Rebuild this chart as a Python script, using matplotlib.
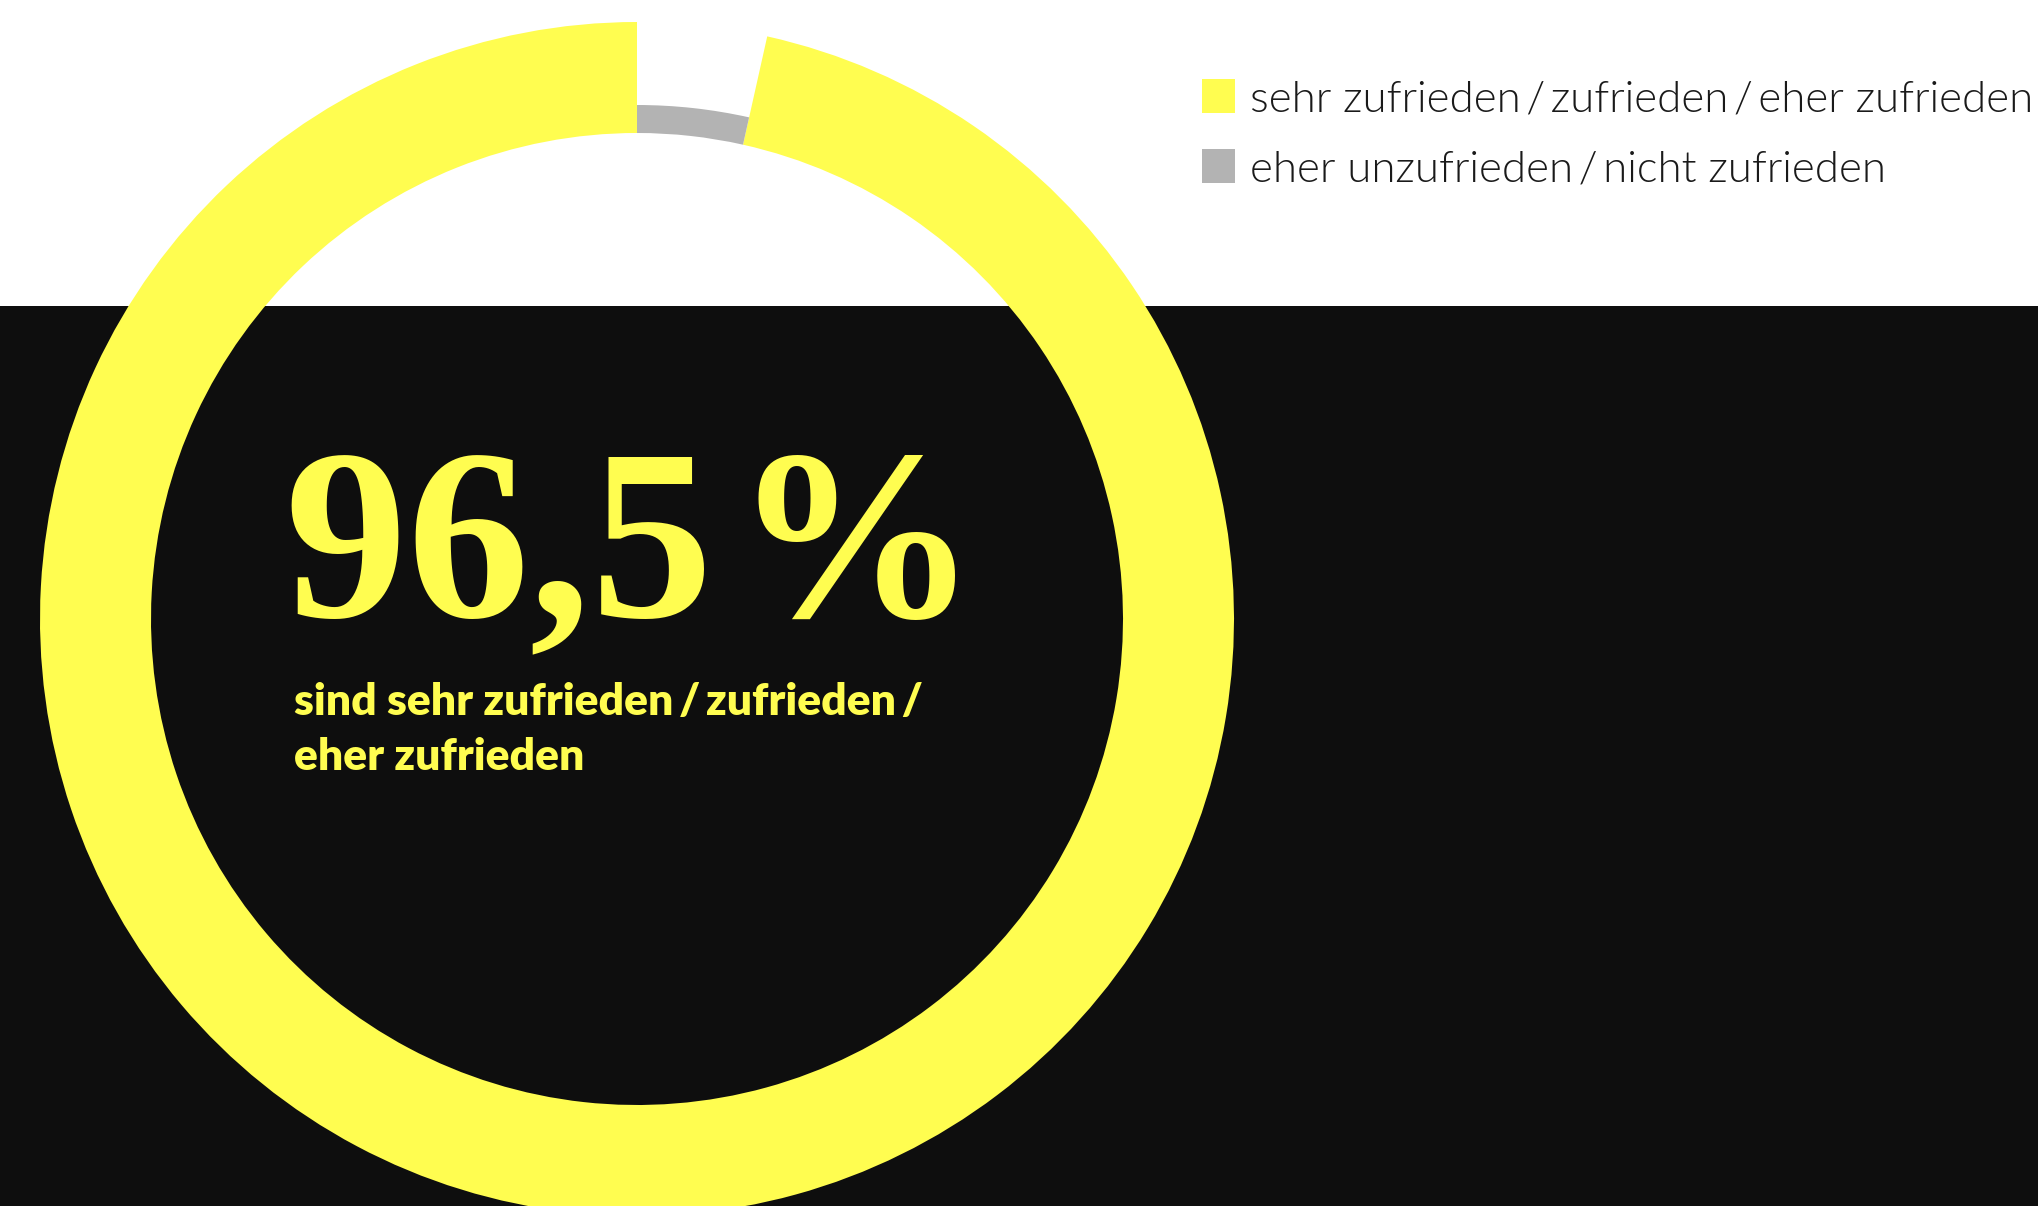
import matplotlib
matplotlib.use("Agg")
import matplotlib.pyplot as plt
from matplotlib.patches import Rectangle

# ---- data ----
categories = ["sehr zufrieden\u2009/\u2009zufrieden\u2009/\u2009eher zufrieden",
              "eher unzufrieden\u2009/\u2009nicht zufrieden"]
values = [96.5, 3.5]
colors = ["#fffd50", "#b3b3b3"]
headline = "96,5\u200a%"
subtitle_lines = ["sind sehr zufrieden\u2009/\u2009zufrieden\u2009/", "eher zufrieden"]

W, H = 2038, 1206
fig = plt.figure(figsize=(W / 100, H / 100), dpi=100)
fig.patch.set_facecolor("white")
ax = fig.add_axes([0, 0, 1, 1])


def Y(y):
    return H - y


# black band
ax.add_patch(Rectangle((0, 0), W, H - 306, color="#0e0e0e", zorder=0, lw=0))

cx, cy = 637, Y(619)
# ring order: grey first (clockwise from top), then yellow
ring_vals = [values[1], values[0]]
ax.pie(ring_vals, colors=["none", colors[0]], radius=597, center=(cx, cy),
       startangle=90, counterclock=False,
       wedgeprops=dict(width=111, linewidth=0, zorder=2), frame=True)
ax.pie(ring_vals, colors=[colors[1], "none"], radius=514, center=(cx, cy),
       startangle=90, counterclock=False,
       wedgeprops=dict(width=28, linewidth=0, zorder=2), frame=True)

ax.set_xlim(0, W)
ax.set_ylim(0, H)
ax.set_aspect("auto")
ax.axis("off")

# headline
ax.text(285, Y(616), headline, fontfamily=["Liberation Serif", "DejaVu Serif"],
        fontweight="bold", fontsize=176, color=colors[0], va="baseline", ha="left", zorder=3)

# subtitle
for i, line in enumerate(subtitle_lines):
    ax.text(294, Y(715 + 55 * i), line, fontfamily=["Lato", "DejaVu Sans"],
            fontweight="heavy", fontsize=32, color=colors[0], va="baseline", ha="left", zorder=3)

# legend
for i, (lab, col) in enumerate(zip(categories, colors)):
    y0 = 79 + 70 * i
    ax.add_patch(Rectangle((1202, Y(y0 + 34)), 33, 34, color=col, lw=0, zorder=3))
    ax.text(1250, Y(y0 + 33), lab, fontfamily=["Lato", "DejaVu Sans"], fontweight=300,
            fontsize=31.5, color="#1a1a1a", va="baseline", ha="left", zorder=3)

fig.savefig("out.png", dpi=100, facecolor=fig.get_facecolor())
